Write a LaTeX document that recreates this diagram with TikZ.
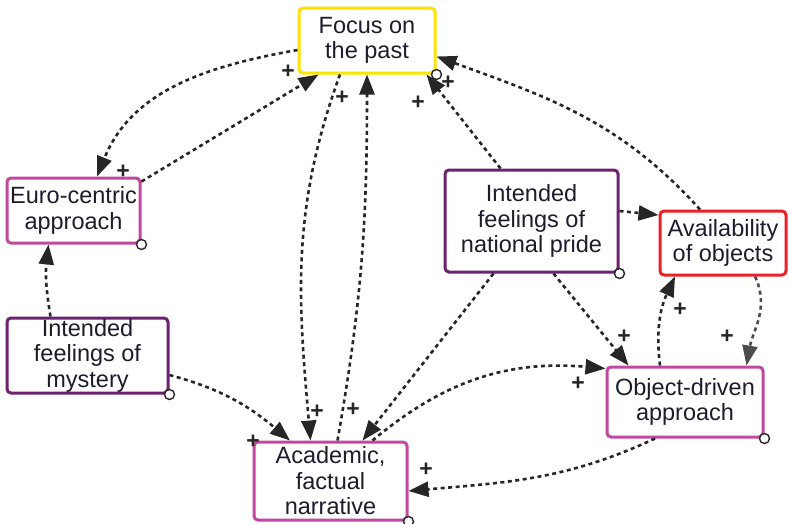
\documentclass[tikz,border=0pt]{standalone}
\usepackage{fontspec}
\setmainfont{Liberation Sans}
\usetikzlibrary{arrows.meta,calc}
\definecolor{cyel}{RGB}{250,228,0}
\definecolor{cmag}{RGB}{192,72,160}
\definecolor{cpur}{RGB}{108,32,112}
\definecolor{cred}{RGB}{232,32,40}
\definecolor{ctxt}{RGB}{28,28,45}
\begin{document}
\begin{tikzpicture}[x=1pt,y=-1pt,
  box/.style={draw, rectangle, rounded corners=4pt, line width=3pt, fill=white,
    align=center, inner sep=0pt, text=ctxt, font=\fontsize{23.5}{25.5}\selectfont},
  link/.style={draw=black!85, line width=2.6pt, dash pattern=on 4pt off 3.5pt,
    -{Triangle[length=20pt,width=15pt]}},
  pm/.style={font=\fontsize{23}{23}\selectfont\bfseries, inner sep=0pt, text=black!85},
  dot/.style={circle, draw=black!85, fill=white, line width=1.4pt, minimum size=10pt, inner sep=0pt}]
\useasboundingbox (0,0) rectangle (789,523);

% nodes
\node[box, draw=cyel, minimum width=136pt, minimum height=65pt] (focus) at (367,40.5) {Focus on\\the past};
\node[box, draw=cmag, minimum width=133pt, minimum height=65pt] (euro) at (73.5,210.5) {Euro-centric\\approach};
\node[box, draw=cpur, minimum width=161pt, minimum height=75pt] (mystery) at (87.5,355.5) {Intended\\feelings of\\mystery};
\node[box, draw=cpur, minimum width=173pt, minimum height=102pt] (pride) at (531.5,221) {Intended\\feelings of\\national pride};
\node[box, draw=cred, minimum width=126pt, minimum height=64pt] (avail) at (723,243) {Availability\\of objects};
\node[box, draw=cmag, minimum width=156pt, minimum height=70pt] (objd) at (685,402) {Object-driven\\approach};
\node[box, draw=cmag, minimum width=153pt, minimum height=78pt] (academic) at (330.5,481) {Academic,\\factual\\narrative};

% connectors
\draw[link] ([yshift=-9.5pt]focus.west) to[out=190,in=68] ([xshift=23.5pt]euro.north);
\draw[link] ([yshift=-5pt]euro.north east) -- ([xshift=21pt]focus.south west);
\draw[link] ([xshift=-37pt]mystery.north) to[bend left=8] ([xshift=-25pt]euro.south);
\draw[link] ([xshift=-27pt]focus.south) to[out=-110,in=95] ([xshift=-20pt]academic.north);
\draw[link] ([xshift=7pt]academic.north) to[out=80,in=-90] (focus.south);
\draw[link] ([xshift=-31pt]pride.north) -- ([xshift=-10pt]focus.south east);
\draw[link] ([xshift=-23pt]avail.north) to[out=132,in=-20] ([yshift=-16pt]focus.east);
\draw[link] ([yshift=10pt]pride.east) -- ([yshift=28pt]avail.west);
\draw[link] ([xshift=-38pt]pride.south) -- ([xshift=32pt]academic.north);
\draw[link] ([xshift=22pt]pride.south) -- ([xshift=23pt]objd.north west);
\draw[link] ([xshift=42pt]academic.north) to[out=40,in=175] ([yshift=-3pt]objd.north west);
\draw[link] ([xshift=-30pt]objd.south) to[out=-155,in=5] ([yshift=-10pt]academic.east);
\draw[link] ([xshift=-25pt]objd.north) to[out=97,in=-115] ([xshift=-48pt]avail.south);
\draw[link, draw=black!70] ([xshift=32pt]avail.south) to[out=-65,in=80] ([xshift=-18pt]objd.north east);
\draw[link] ([yshift=-19.5pt]mystery.east) to[out=-15,in=140] ([xshift=-40.5pt]academic.north);

% corner circles
\node[dot] (cfocus) at (focus.south east) {};
\node[dot] (ceuro) at (euro.south east) {};
\node[dot] (cmystery) at (mystery.south east) {};
\node[dot] (cpride) at (pride.south east) {};
\node[dot] (cobjd) at (objd.south east) {};
\node[dot] (cacademic) at (academic.south east) {};

% polarity signs
\node[pm] (p1) at (123,172) {+};
\node[pm] (p2) at (288,72) {+};
\node[pm] (p3) at (342,98) {+};
\node[pm] (p4) at (418,103) {+};
\node[pm] (p5) at (448,83) {+};
\node[pm] (p6) at (253,442) {+};
\node[pm] (p7) at (317,412) {+};
\node[pm] (p8) at (353,410) {+};
\node[pm] (p9) at (578,384) {+};
\node[pm] (p10) at (426,470) {+};
\node[pm] (p11) at (624,337) {+};
\node[pm] (p12) at (680,310) {+};
\node[pm] (p13) at (727,337) {+};
\end{tikzpicture}
\end{document}
